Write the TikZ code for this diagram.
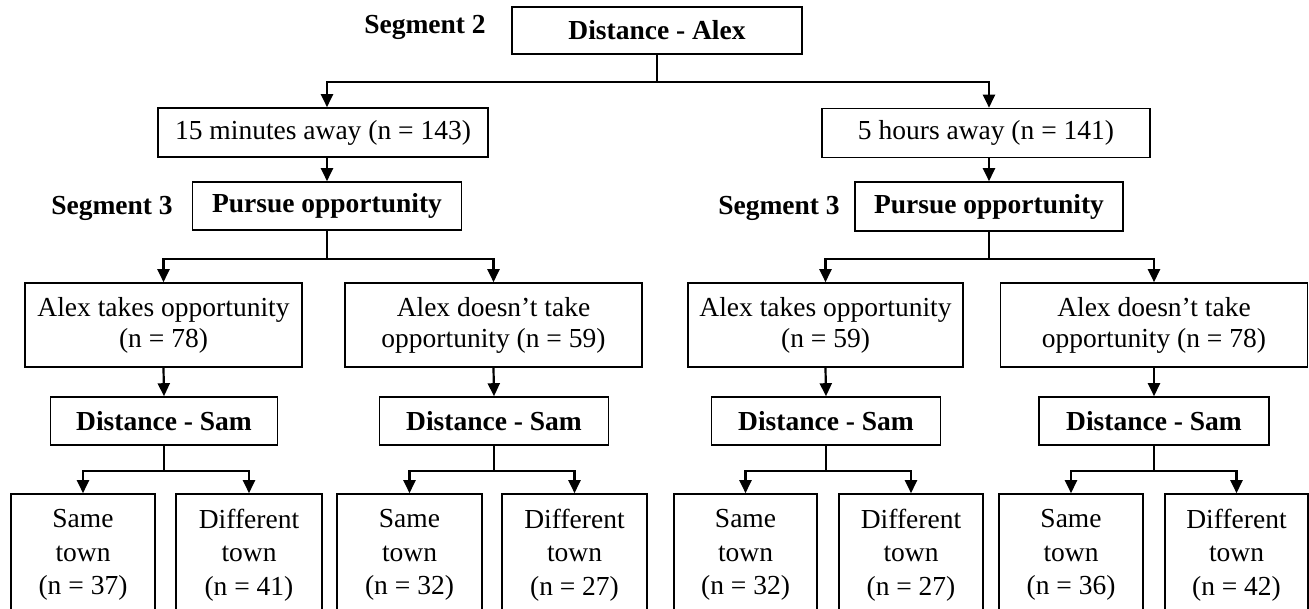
\documentclass[tikz,border=0pt]{standalone}
\usepackage{fontspec}
\setmainfont{Liberation Serif}
\usetikzlibrary{arrows.meta}
\begin{document}
\begin{tikzpicture}[x=1pt,y=-1pt,
  box/.style={draw,line width=1.6pt,inner sep=0pt,align=center,
    font=\fontsize{27.5}{31}\selectfont},
  bbox/.style={box,font=\fontsize{27.5}{31}\selectfont\bfseries},
  leaf/.style={box,font=\fontsize{27.5}{33.5}\selectfont},
  seglabel/.style={inner sep=0pt,font=\fontsize{27.5}{31}\selectfont\bfseries},
  stem/.style={line width=1.8pt},
  br/.style={line width=2.2pt,-{Triangle[width=12pt,length=13pt]}}]
\clip (0,0) rectangle (1309,608);
\useasboundingbox (0,0) rectangle (1309,608);
% top level
\node[bbox,minimum width=290pt,minimum height=47pt] (dA) at (657,30.5) {Distance - Alex};
\node[seglabel] (s2) at (425,27) {Segment 2};
\node[box,minimum width=330pt,minimum height=49pt] (m15) at (323,132.5) {15 minutes away (n = 143)};
\node[box,minimum width=328pt,minimum height=49pt] (h5) at (986,133) {5 hours away (n = 141)};
\coordinate (j0) at (657,82);
\draw[stem] (dA.south) -- (j0);
% segment 3
\node[seglabel] (s3l) at (112,208) {Segment 3};
\node[seglabel] (s3r) at (779,208) {Segment 3};
\node[bbox,minimum width=269pt,minimum height=48pt] (pL) at (327,206) {Pursue opportunity};
\node[bbox,minimum width=268pt,minimum height=49pt] (pR) at (989,206.5) {Pursue opportunity};
\draw[br] (j0) -| (pL.north |- m15.north);
\draw[br] (j0) -| (pR.north |- h5.north);
\draw[br] (pL.north |- m15.south) -- (pL.north);
\draw[br] (pR.north |- h5.south) -- (pR.north);
% alex decisions
\node[box,minimum width=277pt,minimum height=84pt] (aL1) at (163.5,325) {Alex takes opportunity\\(n = 78)};
\node[box,minimum width=297pt,minimum height=84pt] (aL2) at (493.5,325) {Alex doesn’t take\\opportunity (n = 59)};
\node[box,minimum width=275pt,minimum height=84pt] (aR1) at (825.5,325) {Alex takes opportunity\\(n = 59)};
\node[box,minimum width=307pt,minimum height=84pt] (aR2) at (1154,325) {Alex doesn’t take\\opportunity (n = 78)};
\coordinate (jL) at (327,259);
\coordinate (jR) at (989,259);
\draw[stem] (pL.south) -- (jL);
\draw[stem] (pR.south) -- (jR);
\draw[br] (jL) -| (aL1.north);
\draw[br] (jL) -| (aL2.north);
\draw[br] (jR) -| (aR1.north);
\draw[br] (jR) -| (aR2.north);
% distance sam
\node[bbox,minimum width=227pt,minimum height=48pt] (dS1) at (164,421) {Distance - Sam};
\node[bbox,minimum width=229pt,minimum height=48pt] (dS2) at (494,421) {Distance - Sam};
\node[bbox,minimum width=229pt,minimum height=48pt] (dS3) at (826,421) {Distance - Sam};
\node[bbox,minimum width=230pt,minimum height=48pt] (dS4) at (1154,421) {Distance - Sam};
\draw[br] (aL1.south) -- (dS1.north);
\draw[br] (aL2.south) -- (dS2.north);
\draw[br] (aR1.south) -- (dS3.north);
\draw[br] (aR2.south) -- (dS4.north);
% leaves
\node[leaf,minimum width=144pt,minimum height=122pt] (l1) at (83,555) {Same\\town\\(n = 37)};
\node[leaf,minimum width=146pt,minimum height=122pt] (l2) at (249,555) {Different\\town\\(n = 41)};
\node[leaf,minimum width=145pt,minimum height=122pt] (l3) at (409.5,555) {Same\\town\\(n = 32)};
\node[leaf,minimum width=145pt,minimum height=122pt] (l4) at (574.5,555) {Different\\town\\(n = 27)};
\node[leaf,minimum width=143pt,minimum height=122pt] (l5) at (745.5,555) {Same\\town\\(n = 32)};
\node[leaf,minimum width=144pt,minimum height=122pt] (l6) at (911,555) {Different\\town\\(n = 27)};
\node[leaf,minimum width=144pt,minimum height=122pt] (l7) at (1071,555) {Same\\town\\(n = 36)};
\node[leaf,minimum width=143pt,minimum height=122pt] (l8) at (1236.5,555) {Different\\town\\(n = 42)};
\coordinate (k1) at (164,471);
\coordinate (k2) at (494,471);
\coordinate (k3) at (826,471);
\coordinate (k4) at (1154,471);
\draw[stem] (dS1.south) -- (k1);
\draw[stem] (dS2.south) -- (k2);
\draw[stem] (dS3.south) -- (k3);
\draw[stem] (dS4.south) -- (k4);
\draw[br] (k1) -| (l1.north);
\draw[br] (k1) -| (l2.north);
\draw[br] (k2) -| (l3.north);
\draw[br] (k2) -| (l4.north);
\draw[br] (k3) -| (l5.north);
\draw[br] (k3) -| (l6.north);
\draw[br] (k4) -| (l7.north);
\draw[br] (k4) -| (l8.north);
\end{tikzpicture}
\end{document}
